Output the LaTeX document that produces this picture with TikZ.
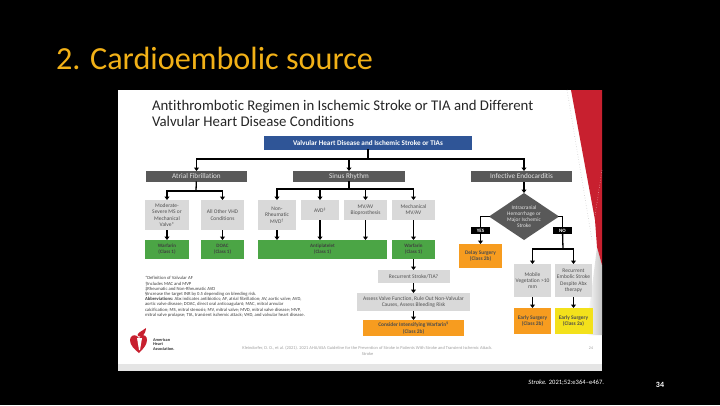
\documentclass[tikz,border=0pt]{standalone}
\usepackage{fontspec}
\setmainfont{Carlito}[Ligatures=NoCommon]
\usetikzlibrary{arrows.meta, positioning, shapes.geometric}

\definecolor{boxgray}{HTML}{D9D9D9}
\definecolor{headgray}{HTML}{595959}
\definecolor{boxgreen}{HTML}{4BA545}
\definecolor{boxorange}{HTML}{F79C1F}
\definecolor{boxyellow}{HTML}{F3E11B}
\definecolor{boxblue}{HTML}{2F5597}
\definecolor{slidegold}{HTML}{F2B117}
\definecolor{ahared}{HTML}{C8202F}
\definecolor{textgray}{HTML}{505050}

\begin{document}
\begin{tikzpicture}[
    x=1pt, y=-1pt,
    every node/.style={inner sep=0pt, outer sep=0pt},
    plainbox/.style={rectangle, align=center, font=\fontsize{5.5}{6.4}\selectfont, text=textgray},
    graybox/.style={plainbox, fill=boxgray},
    greenbox/.style={plainbox, fill=boxgreen, text=black!75, minimum height=19pt, font=\fontsize{5}{6.2}\selectfont\bfseries},
    orangebox/.style={plainbox, fill=boxorange, text=black!70, font=\fontsize{5.4}{6.4}\selectfont\bfseries},
    headbox/.style={rectangle, fill=headgray, text=white!90!black, minimum width=101pt, minimum height=11pt, font=\fontsize{7.2}{8}\selectfont},
    tagbox/.style={rectangle, fill=black, text=white, minimum width=19pt, minimum height=7pt, font=\fontsize{5}{6}\selectfont\bfseries},
    link/.style={line width=1.3pt, line cap=rect},
    flow/.style={line width=1.3pt, -{Triangle[length=3.4pt, width=4.8pt]}},
    note/.style={text=black!75, align=left, font=\fontsize{4.65}{5.2}\selectfont}
]
    % slide and white panel
    \fill[black] (0,0) rectangle (720,405);
    \fill[white] (118,90) rectangle (602,371);
    \fill[gray!20] (118,364) rectangle (602,371);
    \shade[left color=white, right color=gray!45] (586,335) -- (597,247) -- (602,265) -- (602,335) -- cycle;
    \fill[ahared] (571,90) -- (602,90) -- (602,265) -- (597,247) -- (595,220) -- cycle;
    \draw[gray!40, dotted, line width=0.6pt] (567,90) -- (592,240);
    \draw[white!80!ahared, dotted, line width=0.5pt] (602,170) -- (594,222);

    % titles
    \node[anchor=base west, text=slidegold, font=\fontsize{32.2}{36}\selectfont] (slidetitle) at (56,69) {2. Cardioembolic source};
    \node[anchor=north west, align=left, text=black!85, font=\fontsize{14.8}{16}\selectfont] (paneltitle) at (152,100.5) {Antithrombotic Regimen in Ischemic Stroke or TIA and Different\\Valvular Heart Disease Conditions};

    % top row
    \node[rectangle, fill=boxblue, text=white, minimum width=208pt, minimum height=14pt, font=\fontsize{7.15}{8}\selectfont\bfseries] (root) at (368,143) {Valvular Heart Disease and Ischemic Stroke or TIAs};
    \node[headbox] (af) at (196.5,176.5) {Atrial Fibrillation};
    \node[headbox, minimum width=112pt, right=46pt of af] (sinus) {Sinus Rhythm};
    \node[headbox, right=66pt of sinus] (endo) {Infective Endocarditis};

    % atrial fibrillation column
    \node[graybox, minimum width=44pt, minimum height=30pt, below right=18pt and -1pt of af.south west] (modms) {Moderate-\\Severe MS or\\Mechanical\\Valve*};
    \node[graybox, minimum width=43pt, minimum height=30pt, right=12pt of modms] (othervhd) {All Other VHD\\Conditions};
    \node[greenbox, minimum width=44pt, below=10pt of modms] (warfarinaf) {Warfarin\\(Class 1)};
    \node[greenbox, minimum width=43pt, below=10pt of othervhd] (doac) {DOAC\\(Class 1)};

    % sinus rhythm column
    \node[graybox, minimum width=38pt, minimum height=30pt, below right=18pt and -35pt of sinus.south west] (nonrheum) {Non-\\Rheumatic\\MVD\textsuperscript{†}};
    \node[graybox, minimum width=38pt, minimum height=20pt, below right=0pt and 5pt of nonrheum.north east] (avd) {AVD\textsuperscript{‡}};
    \node[graybox, minimum width=43pt, minimum height=20pt, below right=0pt and 5pt of avd.north east] (bio) {MV/AV\\Bioprosthesis};
    \node[graybox, minimum width=43pt, minimum height=20pt, below right=0pt and 5pt of bio.north east] (mechanical) {Mechanical\\MV/AV};
    \node[greenbox, minimum width=129pt, below right=10pt and 0pt of nonrheum.south west] (antiplatelet) {Antiplatelet\\(Class 1)};
    \node[greenbox, minimum width=43pt, below=20pt of mechanical] (warfarinmech) {Warfarin\\(Class 1)};
    \node[graybox, minimum width=72pt, minimum height=13pt, below=11pt of warfarinmech] (recurrent) {Recurrent Stroke/TIA?};
    \node[graybox, minimum width=113pt, minimum height=18pt, below=10pt of recurrent] (assess) {Assess Valve Function, Rule Out Non-Valvular\\Causes, Assess Bleeding Risk};
    \node[orangebox, minimum width=101pt, minimum height=16pt, below=9pt of assess] (intensify) {Consider Intensifying Warfarin\textsuperscript{§}\\(Class 2b)};

    % endocarditis column
    \node[diamond, fill=headgray, text=white!90!black, align=center, aspect=1.5, minimum width=70pt, minimum height=47pt, font=\fontsize{5.4}{6.2}\selectfont] (decision) at (524,216.5) {Intracranial\\Hemorrhage or\\Major Ischemic\\Stroke};
    \node[tagbox] (yesbox) at (480.5,230.5) {YES};
    \node[tagbox] (nobox) at (562.5,230.5) {NO};
    \node[orangebox, minimum width=43pt, minimum height=24pt, below=10pt of yesbox] (delay) {Delay Surgery\\(Class 2b)};
    \node[graybox, minimum width=37pt, minimum height=33pt] (mobile) at (532.5,280.5) {Mobile\\Vegetation >10\\mm};
    \node[graybox, minimum width=37pt, minimum height=33pt, right=4pt of mobile] (embolic) {Recurrent\\Embolic Stroke\\Despite Abx\\therapy};
    \node[orangebox, minimum width=37pt, minimum height=26pt, below=11pt of mobile] (earlyb) {Early Surgery\\(Class 2b)};
    \node[orangebox, fill=boxyellow, minimum width=38pt, minimum height=26pt, below=11pt of embolic] (earlya) {Early Surgery\\(Class 2a)};

    % bus heights
    \coordinate (topbus) at (368,159);
    \coordinate (afbus) at (196,191);
    \coordinate (sinusbus) at (349,189);
    \coordinate (nobus) at (563,249);

    \draw[link] (root) -- (topbus);
    \draw[flow] (topbus) -| (af);
    \draw[flow] (topbus) -| (sinus);
    \draw[flow] (topbus) -| (decision |- endo.north);
    \draw[flow] (decision |- endo.south) -- (decision);

    \draw[link] (af) -- (afbus);
    \draw[flow] (afbus) -| (modms);
    \draw[flow] (afbus) -| (othervhd);
    \draw[flow] (modms) -- (warfarinaf);
    \draw[flow] (othervhd) -- (doac);

    \draw[link] (sinus) -- (sinusbus);
    \draw[flow] (sinusbus) -| (nonrheum);
    \draw[flow] (sinusbus) -| (avd);
    \draw[flow] (sinusbus) -| (bio);
    \draw[flow] (sinusbus) -| (mechanical);
    \foreach \source in {nonrheum, avd, bio}
        \draw[flow] (\source) -- (\source |- antiplatelet.north);
    \draw[flow] (mechanical) -- (warfarinmech);
    \draw[flow] (warfarinmech) -- (recurrent);
    \draw[flow] (recurrent) -- (assess);
    \draw[flow] (assess) -- (intensify);

    \draw[link] (decision.west) -| (yesbox);
    \draw[flow] (yesbox) -- (delay);
    \draw[link] (decision.east) -| (nobox);
    \draw[link] (nobox) -- (nobus);
    \draw[flow] (nobus) -| (mobile);
    \draw[flow] (nobus) -| (embolic);
    \draw[flow] (mobile) -- (earlyb);
    \draw[flow] (embolic) -- (earlya);

    % footnotes
    \node[note, anchor=north west] (footnotes) at (145,276.5) {*Definition of Valvular AF\\
        †Includes MAC and MVP\\
        ‡Rheumatic and Non-Rheumatic AVD\\
        §Increase the target INR by 0.5 depending on bleeding risk.\\
        \textbf{Abbreviations:} Abx indicates antibiotics; AF, atrial fibrillation; AV, aortic valve; AVD,\\
        aortic valve disease; DOAC, direct oral anticoagulant; MAC, mitral annular\\
        calcification; MS, mitral stenosis; MV, mitral valve; MVD, mitral valve disease; MVP,\\
        mitral valve prolapse; TIA, transient ischemic attack; VHD, and valvular heart disease.};

    % logo
    \fill[ahared] (139,353) .. controls (134,349) and (130,345) .. (130,340) .. controls (130,336) and (134,334) .. (137,336) -- (139,338) -- (141,336) .. controls (144,334) and (147,336) .. (147,340) .. controls (147,345) and (143,349) .. (139,353) -- cycle;
    \fill[ahared] (138,336) .. controls (136,333) and (141,332) .. (146,328) .. controls (146,332) and (144,334) .. (142,337) -- cycle;
    \fill[white] (137,338) -- (142,338) -- (140,350) -- (139,350) -- cycle;
    \node[anchor=north west, align=left, text=black!80, font=\fontsize{4.3}{4.7}\selectfont\bfseries] (ahaname) at (153,338) {American\\Heart\\Association.};

    % citation and page marks
    \node[text=gray!75, align=center, font=\fontsize{4.43}{6}\selectfont] (citation) at (367.5,351) {Kleindorfer, D. O., et al. (2021). 2021 AHA/ASA Guideline for the Prevention of Stroke in Patients With Stroke and Transient Ischemic Attack.\\Stroke};
    \node[text=gray!75, font=\fontsize{4}{5}\selectfont] (panelpage) at (591,348) {24};
    \node[anchor=east, text=white, font=\fontsize{6.6}{8}\selectfont] (source) at (604,383) {\textit{Stroke.} 2021;52:e364–e467.};
    \node[text=white, font=\fontsize{8}{10}\selectfont\bfseries] (slidepage) at (660,385) {34};
\end{tikzpicture}
\end{document}
